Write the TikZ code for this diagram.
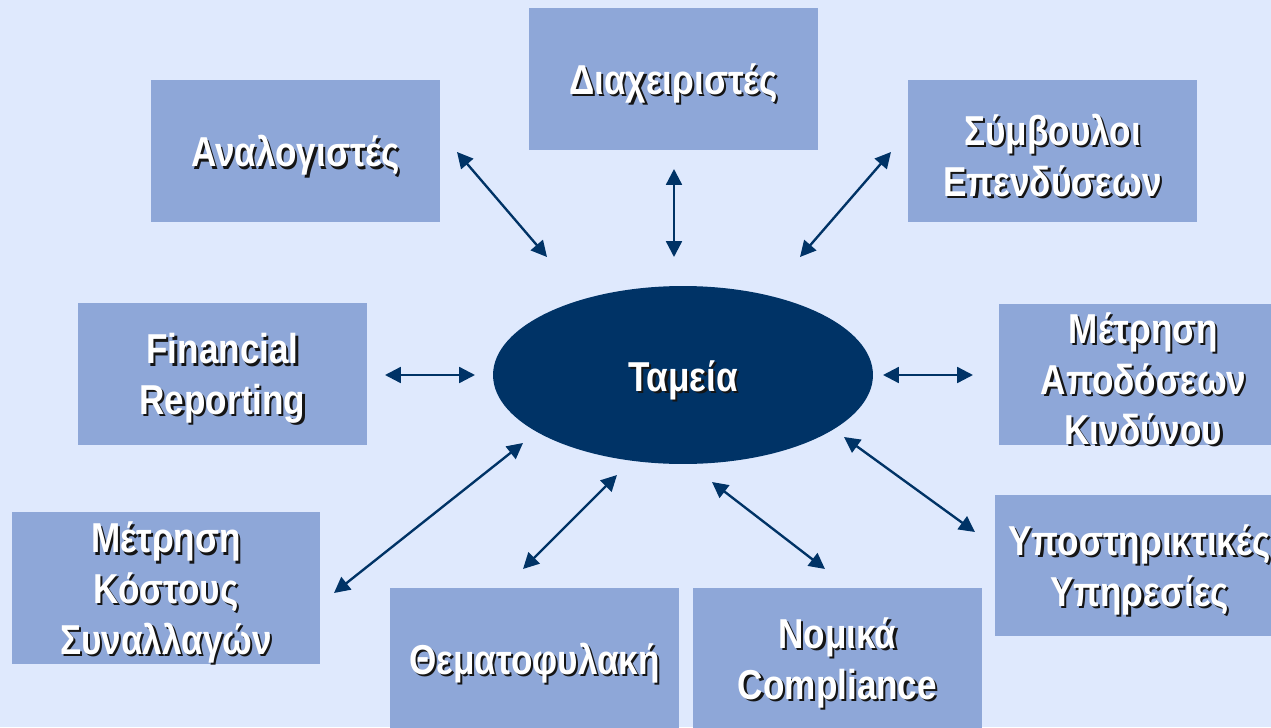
\documentclass[tikz,border=0pt]{standalone}
\usepackage{fontspec}
\setmainfont{Liberation Sans}[FakeStretch=0.84]
\usetikzlibrary{arrows.meta,shapes.geometric}
\definecolor{bgc}{HTML}{DFE9FD}
\definecolor{boxc}{HTML}{8EA7D8}
\definecolor{navy}{HTML}{003366}
\definecolor{shd}{HTML}{151515}
\tikzset{
  box/.style={fill=boxc, draw=none, minimum width=5.78cm, minimum height=2.84cm, inner sep=0pt},
  labtxt/.style={text=white, font=\bfseries\fontsize{23.8pt}{28.8pt}\selectfont, align=center, inner sep=0pt},
  shadowtxt/.style={labtxt, text=shd},
  arr/.style={draw=navy, line width=1.35pt, {Triangle[length=9pt,width=9pt]}-{Triangle[length=9pt,width=9pt]}},
  hub/.style={ellipse, fill=navy, draw=none, minimum width=7.6cm, minimum height=3.56cm, inner sep=0pt}
}
\newcommand\boxlabel[4][]{%
  \node[box,#1] (#2) at (#3) {};
  \node[shadowtxt] (#2-s) at ([shift={(2.2,6.7)}]#2.center) {#4};
  \node[labtxt] (#2-t) at ([shift={(0,4.5)}]#2.center) {#4};
}
\begin{document}
\begin{tikzpicture}[x=0.02cm,y=-0.02cm]
\clip (0,0) rectangle (1271,727);
\fill[bgc] (0,0) rectangle (1271,727);

\boxlabel{ana}{295.5,151}{Αναλογιστές}
\boxlabel{dia}{673.5,79}{Διαχειριστές}
\boxlabel{sym}{1052.5,151}{Σύμβουλοι\\Επενδύσεων}
\boxlabel{fin}{222.5,374}{Financial\\Reporting}
\boxlabel{apo}{1143.5,374.5}{Μέτρηση\\Αποδόσεων\\Κινδύνου}
\boxlabel[minimum width=6.16cm, minimum height=3.04cm]{kos}{166,588}{Μέτρηση\\Κόστους\\Συναλλαγών}
\boxlabel{the}{534.5,658.5}{Θεματοφυλακή}
\boxlabel{nom}{837.5,658.5}{Νομικά\\Compliance}
\boxlabel{ypo}{1139.5,565.5}{Υποστηρικτικές\\Υπηρεσίες}

\node[hub] (tam) at (683,375) {};
\node[shadowtxt] (tam-s) at ([shift={(2.2,7.2)}]tam.center) {Ταμεία};
\node[labtxt] (tam-t) at ([shift={(0,5)}]tam.center) {Ταμεία};

% connector end points
\coordinate (anaE) at (457,152);  \coordinate (tamA) at (547,257);
\coordinate (diaE) at (674,169);  \coordinate (tamD) at (674,257);
\coordinate (symE) at (891,152);  \coordinate (tamS) at (800,257);
\coordinate (finE) at (385,375);  \coordinate (tamF) at (475,375);
\coordinate (apoE) at (973,375);  \coordinate (tamP) at (883,375);
\coordinate (kosE) at (334,593);  \coordinate (tamK) at (523,443);
\coordinate (theE) at (523,569);  \coordinate (tamT) at (617,475);
\coordinate (nomE) at (825,569);  \coordinate (tamN) at (712,482);
\coordinate (ypoE) at (975,532);  \coordinate (tamY) at (844,437);

\draw[arr] (anaE) -- (tamA);
\draw[arr] (diaE) -- (tamD);
\draw[arr] (symE) -- (tamS);
\draw[arr] (finE) -- (tamF);
\draw[arr] (apoE) -- (tamP);
\draw[arr] (kosE) -- (tamK);
\draw[arr] (theE) -- (tamT);
\draw[arr] (nomE) -- (tamN);
\draw[arr] (ypoE) -- (tamY);
\end{tikzpicture}
\end{document}
